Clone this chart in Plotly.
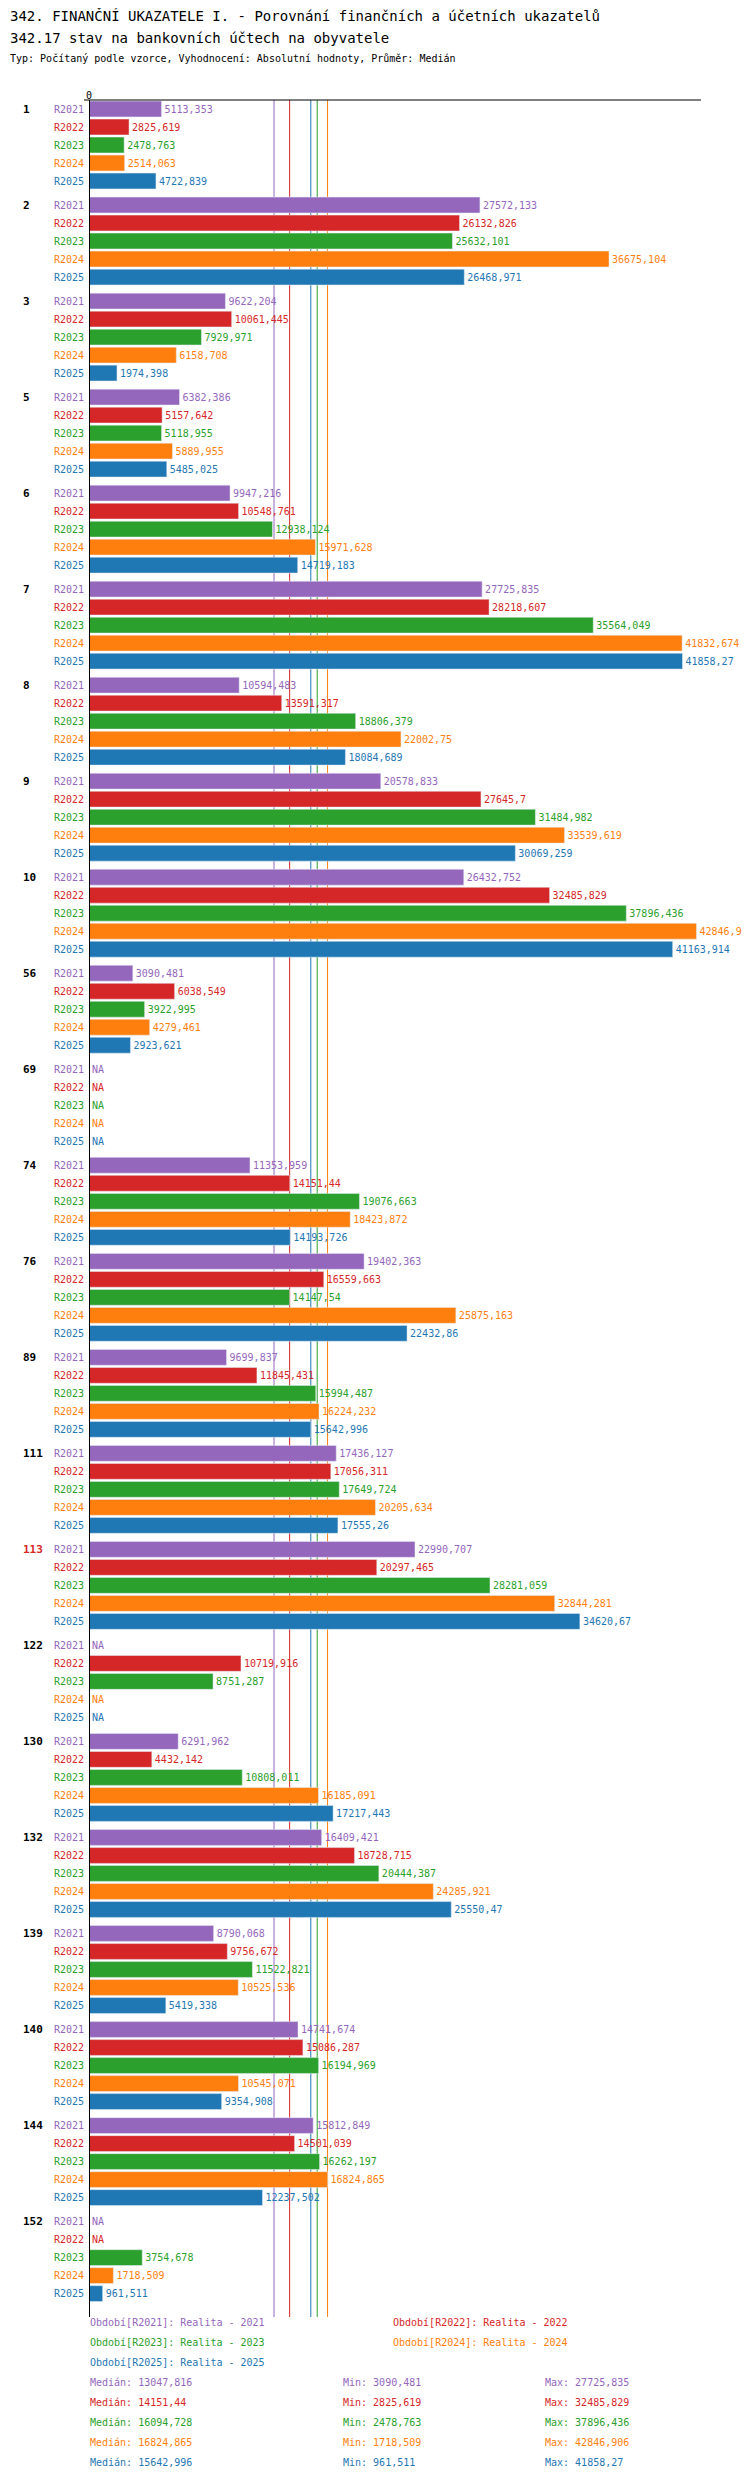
import plotly.graph_objects as go

groups = ['1', '2', '3', '5', '6', '7', '8', '9', '10', '56', '69', '74', '76', '89',
          '111', '113', '122', '130', '132', '139', '140', '144', '152']
periods = ['R2021', 'R2022', 'R2023', 'R2024', 'R2025']
colors = ['#9467bd', '#d62728', '#2ca02c', '#ff7f0e', '#1f77b4']
NA = None

r2021 = [5113.353, 27572.133, 9622.204, 6382.386, 9947.216, 27725.835, 10594.483, 20578.833,
         26432.752, 3090.481, NA, 11353.959, 19402.363, 9699.837, 17436.127, 22990.707, NA,
         6291.962, 16409.421, 8790.068, 14741.674, 15812.849, NA]
r2022 = [2825.619, 26132.826, 10061.445, 5157.642, 10548.761, 28218.607, 13591.317, 27645.7,
         32485.829, 6038.549, NA, 14151.44, 16559.663, 11845.431, 17056.311, 20297.465, 10719.916,
         4432.142, 18728.715, 9756.672, 15086.287, 14501.039, NA]
r2023 = [2478.763, 25632.101, 7929.971, 5118.955, 12938.124, 35564.049, 18806.379, 31484.982,
         37896.436, 3922.995, NA, 19076.663, 14147.54, 15994.487, 17649.724, 28281.059, 8751.287,
         10808.011, 20444.387, 11522.821, 16194.969, 16262.197, 3754.678]
r2024 = [2514.063, 36675.104, 6158.708, 5889.955, 15971.628, 41832.674, 22002.75, 33539.619,
         42846.906, 4279.461, NA, 18423.872, 25875.163, 16224.232, 20205.634, 32844.281, NA,
         16185.091, 24285.921, 10525.536, 10545.071, 16824.865, 1718.509]
r2025 = [4722.839, 26468.971, 1974.398, 5485.025, 14719.183, 41858.27, 18084.689, 30069.259,
         41163.914, 2923.621, NA, 14193.726, 22432.86, 15642.996, 17555.26, 34620.67, NA,
         17217.443, 25550.47, 5419.338, 9354.908, 12237.502, 961.511]
series = [r2021, r2022, r2023, r2024, r2025]

legend_names = ['Realita - 2021', 'Realita - 2022', 'Realita - 2023', 'Realita - 2024', 'Realita - 2025']
medians = [13047.816, 14151.44, 16094.728, 16824.865, 15642.996]
mins = [3090.481, 2825.619, 2478.763, 1718.509, 961.511]
maxs = [27725.835, 32485.829, 37896.436, 42846.906, 41858.27]

W, H = 750, 2480
FONT = 'DejaVu Sans Mono'
GAP = 1 / 3
PITCH = 5 + GAP
y_top, y_bot = 92, 2309
x0_px, x1_px = 81, 693
XMAX = (x1_px - x0_px) / (520 / 36675)


def fmt(v):
    if v is None:
        return 'NA'
    s = f'{v:.3f}'.rstrip('0').rstrip('.')
    return s.replace('.', ',')


def ypos(g, k):
    return g * PITCH + k


fig = go.Figure()
for k, (vals, c) in enumerate(zip(series, colors)):
    ys = [ypos(g, k) for g in range(len(groups))]
    fig.add_trace(go.Bar(
        x=[v if v is not None else 0 for v in vals], y=ys, orientation='h',
        marker_color=c, width=0.88, showlegend=False,
        text=[fmt(v) for v in vals], textposition='outside', cliponaxis=False,
        textfont=dict(family=FONT, size=10, color=c)))

ann = []
for g, name in enumerate(groups):
    ann.append(dict(x=13 / W, xref='paper', y=ypos(g, 0), yref='y', text=f'<b>{name}</b>',
                    showarrow=False, xanchor='left',
                    font=dict(family=FONT, size=11, color='#d62728' if name == '113' else 'black')))
    for k, p in enumerate(periods):
        ann.append(dict(x=78 / W, xref='paper', y=ypos(g, k), yref='y', text=p,
                        showarrow=False, xanchor='right', font=dict(family=FONT, size=10, color=colors[k])))

ann.append(dict(x=0, xref='x', y=1 - 80 / H, yref='paper', text='0', showarrow=False,
                font=dict(family=FONT, size=10, color='black')))

titles = [('342. FINANČNÍ UKAZATELE I. - Porovnání finančních a účetních ukazatelů', 8, 14),
          ('342.17 stav na bankovních účtech na obyvatele', 30, 14),
          ('Typ: Počítaný podle vzorce, Vyhodnocení: Absolutní hodnoty, Průměr: Medián', 51, 10)]
for t, y, s in titles:
    ann.append(dict(x=0, xref='paper', y=1 - y / H, yref='paper', text=t, showarrow=False,
                    xanchor='left', yanchor='middle', font=dict(family=FONT, size=s, color='black')))

leg_pos = [(80, 2322), (383, 2322), (80, 2342), (383, 2342), (80, 2362)]
for k, (x, y) in enumerate(leg_pos):
    ann.append(dict(x=x / W, xref='paper', y=1 - y / H, yref='paper',
                    text=f'Období[{periods[k]}]: {legend_names[k]}', showarrow=False,
                    xanchor='left', font=dict(family=FONT, size=10, color=colors[k])))
for k in range(5):
    y = 1 - (2382 + 20 * k) / H
    for x, t in [(80, f'Medián: {fmt(medians[k])}'), (333, f'Min: {fmt(mins[k])}'), (535, f'Max: {fmt(maxs[k])}')]:
        ann.append(dict(x=x / W, xref='paper', y=y, yref='paper', text=t, showarrow=False,
                        xanchor='left', font=dict(family=FONT, size=10, color=colors[k])))

shapes = []
ytop_p, ybot_p = 1 - y_top / H, 1 - y_bot / H
for m, c in zip(medians, colors):
    shapes.append(dict(type='line', xref='x', yref='paper', x0=m, x1=m, y0=ybot_p, y1=ytop_p,
                       line=dict(color=c, width=1), layer='below'))
shapes.append(dict(type='line', xref='paper', yref='paper', x0=76 / W, x1=x1_px / W, y0=ytop_p, y1=ytop_p,
                   line=dict(color='black', width=1)))
shapes.append(dict(type='line', xref='x', yref='paper', x0=0, x1=0, y0=ybot_p, y1=ytop_p,
                   line=dict(color='black', width=2)))

n_rows = ypos(len(groups) - 1, 4)
fig.update_layout(
    width=W, height=H, margin=dict(l=0, r=0, t=0, b=0),
    plot_bgcolor='white', paper_bgcolor='white', barmode='overlay',
    xaxis=dict(domain=[x0_px / W, x1_px / W], range=[0, XMAX], visible=False),
    yaxis=dict(domain=[ybot_p, ytop_p], range=[n_rows + 1.3, -0.5], visible=False),
    annotations=ann, shapes=shapes, font=dict(family=FONT))
fig.write_html('out.html')
